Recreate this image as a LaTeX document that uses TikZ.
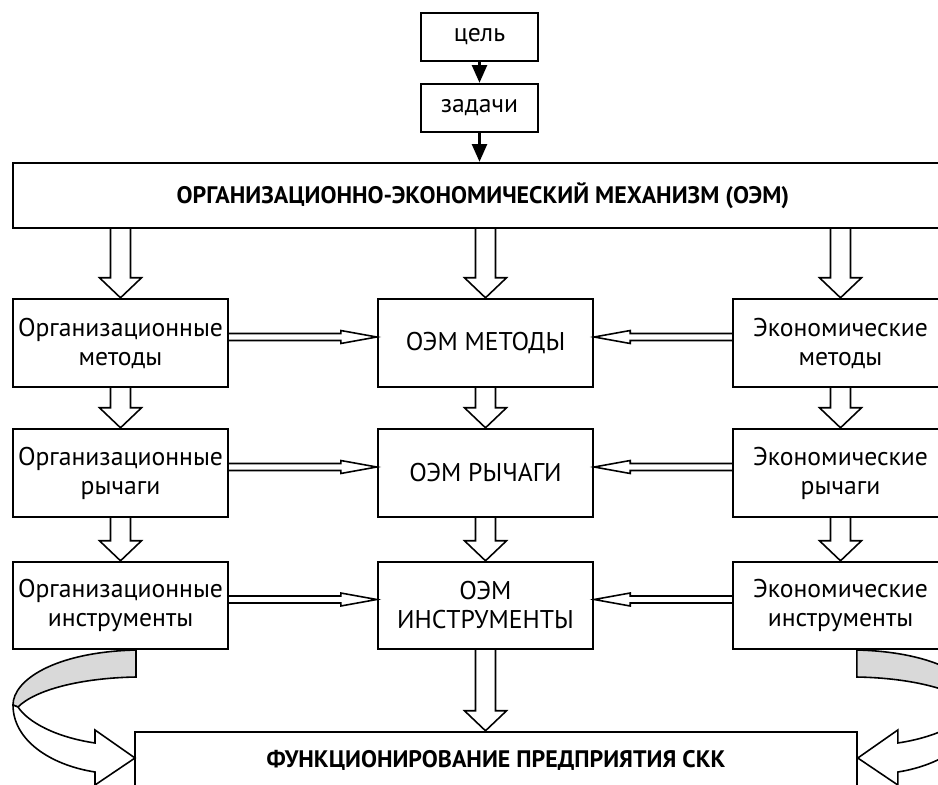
\documentclass[tikz,border=0pt]{standalone}
\usepackage{fontspec}
\setmainfont{PT Sans}
\usetikzlibrary{arrows.meta,calc}

% hollow block arrow pointing down: #1 top middle, #2 tip
\newcommand{\downflow}[2]{%
  \draw[flow] ($#1+(-10,0)$) -- ($#2+(-10,-20)$) -- ($#2+(-21,-20)$) -- #2
    -- ($#2+(21,-20)$) -- ($#2+(10,-20)$) -- ($#1+(10,0)$);}
% thin hollow arrow between two boxes of one row: #1 start, #2 tip, #3 signed head length
\newcommand{\sideflow}[3]{%
  \draw[flow] ($#1+(0,-9.5)$) -- ($#2+(#3,-9.5)$) -- ($#2+(#3,-12.5)$) -- ($#2+(0,-6)$)
    -- ($#2+(#3,0.5)$) -- ($#2+(#3,-2.5)$) -- ($#1+(0,-2.5)$);}

\begin{document}
\begin{tikzpicture}[x=0.02cm, y=-0.02cm,
    box/.style={draw, line width=1.4pt, align=center, inner sep=0pt,
      minimum width=4.3cm, minimum height=1.76cm, font=\fontsize{14.6}{16.5}\selectfont},
    title/.style={font=\fontsize{13.6}{16}\selectfont\bfseries},
    flow/.style={draw, fill=white, line width=0.9pt, line join=miter},
    link/.style={line width=1.3pt, -{Triangle[length=10pt, width=8.5pt]}},
    curl/.style={draw, line width=0.9pt}]
  \path[use as bounding box, clip] (0,0) rectangle (938,785);
  % goal and tasks
  \node[box, minimum width=2.34cm, minimum height=0.96cm] (goal) at (479.5,37) {цель};
  \node[box, minimum width=2.34cm, minimum height=0.96cm] (tasks) at (479.5,108) {задачи};
  \node[box, title, minimum width=18.8cm, minimum height=1.3cm]
    (oem) at (483,195.5) {ОРГАНИЗАЦИОННО-ЭКОНОМИЧЕСКИЙ МЕХАНИЗМ (ОЭМ)};
  \draw[link] (goal) -- (tasks);
  \draw[link] (tasks.south) -- (tasks.south |- oem.north);
  % three columns
  \node[box] (l1) at (120.5,343) {Организационные\\методы};
  \node[box] (l2) at (120.5,473) {Организационные\\рычаги};
  \node[box, minimum height=1.74cm] (l3) at (120.5,605.5) {Организационные\\инструменты};
  \node[box] (m1) at (485.5,343) {ОЭМ МЕТОДЫ};
  \node[box] (m2) at (485.5,473) {ОЭМ РЫЧАГИ};
  \node[box, minimum height=1.74cm] (m3) at (485.5,605.5) {ОЭМ\\ИНСТРУМЕНТЫ};
  \node[box] (r1) at (840.5,343) {Экономические\\методы};
  \node[box] (r2) at (840.5,473) {Экономические\\рычаги};
  \node[box, minimum height=1.74cm] (r3) at (840.5,605.5) {Экономические\\инструменты};
  \node[box, title, minimum width=14.44cm, minimum height=1.12cm]
    (work) at (496,760) {ФУНКЦИОНИРОВАНИЕ ПРЕДПРИЯТИЯ СКК};
  % block arrows down
  \downflow{(l1.north |- oem.south)}{(l1.north)}
  \downflow{(m1.north |- oem.south)}{(m1.north)}
  \downflow{(r1.north |- oem.south)}{(r1.north)}
  \downflow{(l1.south)}{(l2.north)}
  \downflow{(m1.south)}{(m2.north)}
  \downflow{(r1.south)}{(r2.north)}
  \downflow{(l2.south)}{(l3.north)}
  \downflow{(m2.south)}{(m3.north)}
  \downflow{(r2.south)}{(r3.north)}
  \downflow{(m3.south)}{(m3.south |- work.north)}
  % side arrows into the middle column
  \sideflow{(l1.east)}{(m1.west)}{-36}
  \sideflow{(l2.east)}{(m2.west)}{-36}
  \sideflow{(l3.east)}{(m3.west)}{-36}
  \sideflow{(r1.west)}{(m1.east)}{36}
  \sideflow{(r2.west)}{(m2.east)}{36}
  \sideflow{(r3.west)}{(m3.east)}{36}
  % curled arrows into the bottom box
  \foreach \side in {1,-1}{
    \begin{scope}[xshift={(1-\side)*9.93cm}, xscale=\side]
      \draw[curl, fill=black!15] (136,650) .. controls (55,652) and (13,680) .. (13,705)
        -- (18,707) .. controls (35,690) and (80,678) .. (136,677) -- cycle;
      \draw[curl, fill=white] (13,705) .. controls (13,740) and (50,765) .. (95,772)
        -- (95,785) -- (135,758) -- (95,730) -- (95,743)
        .. controls (55,737) and (28,722) .. (18,707) -- cycle;
    \end{scope}
  }
\end{tikzpicture}
\end{document}
